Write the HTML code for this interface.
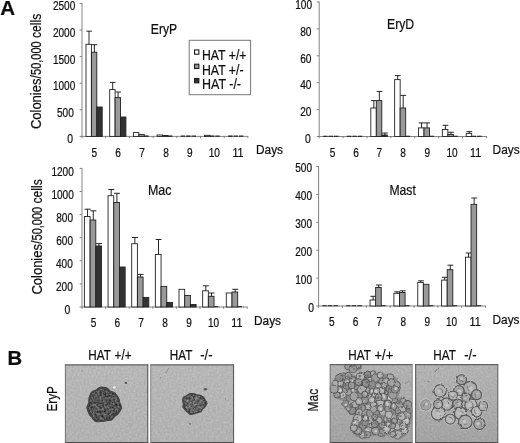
<!DOCTYPE html>
<html><head><meta charset="utf-8"><title>Figure</title>
<style>
html,body{margin:0;padding:0;background:#fff}
svg{display:block}
text{font-family:"Liberation Sans",sans-serif;fill:#111;stroke:#111;stroke-width:0.22px}
</style></head><body>
<svg width="520" height="443" viewBox="0 0 520 443">
<defs>
<filter id="soft" x="-5%" y="-5%" width="110%" height="110%"><feGaussianBlur stdDeviation="0.3"/></filter>
</defs>
<rect width="520" height="443" fill="#fff"/>
<g filter="url(#soft)">
<text x="0.2" y="14.9" font-size="21" textLength="14.8" lengthAdjust="spacingAndGlyphs" font-weight="bold" fill="#000">A</text>
<text x="7.4" y="365.4" font-size="20.6" textLength="14.6" lengthAdjust="spacingAndGlyphs" font-weight="bold" fill="#000">B</text>
<g>
<path d="M82 2.9V136.4H247.9" stroke="#7e7e7e" stroke-width="0.95" fill="none"/>
<path d="M79.6 3.4H82M79.6 30H82M79.6 56.6H82M79.6 83.2H82M79.6 109.8H82M79.6 136.4H82M82.0 135.9V138.2M105.7 135.9V138.2M129.4 135.9V138.2M153.1 135.9V138.2M176.8 135.9V138.2M200.5 135.9V138.2M224.2 135.9V138.2M247.9 135.9V138.2" stroke="#777" stroke-width="0.9" fill="none"/>
<text x="75.3" y="10.4" font-size="12.5" text-anchor="end" textLength="22.4" lengthAdjust="spacingAndGlyphs">2500</text>
<text x="75.3" y="37" font-size="12.5" text-anchor="end" textLength="22.4" lengthAdjust="spacingAndGlyphs">2000</text>
<text x="75.3" y="63.6" font-size="12.5" text-anchor="end" textLength="22.4" lengthAdjust="spacingAndGlyphs">1500</text>
<text x="75.3" y="90.2" font-size="12.5" text-anchor="end" textLength="22.4" lengthAdjust="spacingAndGlyphs">1000</text>
<text x="73.8" y="116.8" font-size="12.5" text-anchor="end" textLength="16.8" lengthAdjust="spacingAndGlyphs">500</text>
<text x="73.0" y="143.4" font-size="12.5" text-anchor="end" textLength="5.8" lengthAdjust="spacingAndGlyphs">0</text>
<text x="94.4" y="157" font-size="12.5" text-anchor="middle" textLength="5.6" lengthAdjust="spacingAndGlyphs">5</text>
<text x="118" y="157" font-size="12.5" text-anchor="middle" textLength="5.6" lengthAdjust="spacingAndGlyphs">6</text>
<text x="142" y="157" font-size="12.5" text-anchor="middle" textLength="5.6" lengthAdjust="spacingAndGlyphs">7</text>
<text x="166" y="157" font-size="12.5" text-anchor="middle" textLength="5.6" lengthAdjust="spacingAndGlyphs">8</text>
<text x="189.7" y="157" font-size="12.5" text-anchor="middle" textLength="5.6" lengthAdjust="spacingAndGlyphs">9</text>
<text x="214.3" y="157" font-size="12.5" text-anchor="middle" textLength="11.2" lengthAdjust="spacingAndGlyphs">10</text>
<text x="238" y="157" font-size="12.5" text-anchor="middle" textLength="11.2" lengthAdjust="spacingAndGlyphs">11</text>
<text x="256" y="154.4" font-size="13.5" textLength="27" lengthAdjust="spacingAndGlyphs">Days</text>
<text x="150.8" y="34.3" font-size="14.5" textLength="26.3" lengthAdjust="spacingAndGlyphs">EryP</text>
<rect x="86.00" y="44.30" width="5.40" height="92.10" fill="#fff" stroke="#222" stroke-width="0.9"/>
<path d="M89.00 44.30V31.20M86.30 31.20H91.90" stroke="#111" stroke-width="0.9" fill="none"/>
<rect x="91.40" y="52.20" width="5.40" height="84.20" fill="#999" stroke="#222" stroke-width="0.9"/>
<path d="M94.40 52.20V44.70M91.70 44.70H97.30" stroke="#111" stroke-width="0.9" fill="none"/>
<rect x="96.80" y="107.00" width="5.40" height="29.40" fill="#333" stroke="#222" stroke-width="0.9"/>
<rect x="109.70" y="89.60" width="5.40" height="46.80" fill="#fff" stroke="#222" stroke-width="0.9"/>
<path d="M112.70 89.60V82.40M110.00 82.40H115.60" stroke="#111" stroke-width="0.9" fill="none"/>
<rect x="115.10" y="97.60" width="5.40" height="38.80" fill="#999" stroke="#222" stroke-width="0.9"/>
<path d="M118.10 97.60V92.00M115.40 92.00H121.00" stroke="#111" stroke-width="0.9" fill="none"/>
<rect x="120.50" y="117.00" width="5.40" height="19.40" fill="#333" stroke="#222" stroke-width="0.9"/>
<rect x="133.40" y="132.60" width="5.40" height="3.80" fill="#fff" stroke="#222" stroke-width="0.9"/>
<rect x="138.80" y="134.40" width="5.40" height="2.00" fill="#999" stroke="#222" stroke-width="0.9"/>
<path d="M144.20 136.10H149.60" stroke="#151515" stroke-width="1.1" stroke-dasharray="4.4 1"/>
<rect x="157.10" y="135.00" width="5.40" height="1.40" fill="#fff" stroke="#222" stroke-width="0.9"/>
<rect x="162.50" y="135.50" width="5.40" height="0.90" fill="#999" stroke="#222" stroke-width="0.9"/>
<path d="M167.90 136.10H173.30" stroke="#151515" stroke-width="1.1" stroke-dasharray="4.4 1"/>
<path d="M180.80 136.10H186.20" stroke="#151515" stroke-width="1.1" stroke-dasharray="4.4 1"/>
<path d="M186.20 136.10H191.60" stroke="#151515" stroke-width="1.1" stroke-dasharray="4.4 1"/>
<path d="M191.60 136.10H197.00" stroke="#151515" stroke-width="1.1" stroke-dasharray="4.4 1"/>
<rect x="204.50" y="135.30" width="5.40" height="1.10" fill="#fff" stroke="#222" stroke-width="0.9"/>
<path d="M209.90 136.10H215.30" stroke="#151515" stroke-width="1.1" stroke-dasharray="4.4 1"/>
<path d="M215.30 136.10H220.70" stroke="#151515" stroke-width="1.1" stroke-dasharray="4.4 1"/>
<path d="M228.20 136.10H233.60" stroke="#151515" stroke-width="1.1" stroke-dasharray="4.4 1"/>
<path d="M233.60 136.10H239.00" stroke="#151515" stroke-width="1.1" stroke-dasharray="4.4 1"/>
<path d="M239.00 136.10H244.40" stroke="#151515" stroke-width="1.1" stroke-dasharray="4.4 1"/>
</g>
<text x="40.9" y="129.1" font-size="15" transform="rotate(-90 40.9 129.1)"><tspan textLength="54.2" lengthAdjust="spacingAndGlyphs">Colonies/</tspan><tspan textLength="33.6" lengthAdjust="spacingAndGlyphs">50,000</tspan><tspan textLength="27.6" lengthAdjust="spacingAndGlyphs"> cells</tspan></text>
<rect x="189.2" y="40.3" width="61.4" height="54.4" fill="#fff" stroke="#777" stroke-width="1"/>
<rect x="194.55" y="49.9" width="4.3" height="4.3" fill="#fff" stroke="#1c1c1c" stroke-width="1.1"/>
<text x="202" y="60.3" font-size="14" textLength="44.5" lengthAdjust="spacingAndGlyphs">HAT +/+</text>
<rect x="194.55" y="64.2" width="4.3" height="4.3" fill="#999" stroke="#1c1c1c" stroke-width="1.1"/>
<text x="202" y="74.6" font-size="14" textLength="41.5" lengthAdjust="spacingAndGlyphs">HAT +/-</text>
<rect x="194.55" y="78.5" width="4.3" height="4.3" fill="#333" stroke="#1c1c1c" stroke-width="1.1"/>
<text x="202" y="88.9" font-size="14" textLength="39" lengthAdjust="spacingAndGlyphs">HAT -/-</text>
<g>
<path d="M319.2 1.5V136.5H486.5" stroke="#7e7e7e" stroke-width="0.95" fill="none"/>
<path d="M316.8 2H319.2M316.8 28.9H319.2M316.8 55.8H319.2M316.8 82.7H319.2M316.8 109.6H319.2M316.8 136.5H319.2M319.2 136.0V138.3M343.1 136.0V138.3M367.0 136.0V138.3M390.9 136.0V138.3M414.8 136.0V138.3M438.7 136.0V138.3M462.6 136.0V138.3M486.5 136.0V138.3" stroke="#777" stroke-width="0.9" fill="none"/>
<text x="312" y="8.7" font-size="12.5" text-anchor="end" textLength="16.8" lengthAdjust="spacingAndGlyphs">100</text>
<text x="311.5" y="35.6" font-size="12.5" text-anchor="end" textLength="11.3" lengthAdjust="spacingAndGlyphs">80</text>
<text x="311.5" y="62.5" font-size="12.5" text-anchor="end" textLength="11.3" lengthAdjust="spacingAndGlyphs">60</text>
<text x="311.5" y="89.4" font-size="12.5" text-anchor="end" textLength="11.3" lengthAdjust="spacingAndGlyphs">40</text>
<text x="311.5" y="116.3" font-size="12.5" text-anchor="end" textLength="11.3" lengthAdjust="spacingAndGlyphs">20</text>
<text x="310.7" y="143.2" font-size="12.5" text-anchor="end" textLength="5.8" lengthAdjust="spacingAndGlyphs">0</text>
<text x="332.6" y="157" font-size="12.5" text-anchor="middle" textLength="5.6" lengthAdjust="spacingAndGlyphs">5</text>
<text x="356" y="157" font-size="12.5" text-anchor="middle" textLength="5.6" lengthAdjust="spacingAndGlyphs">6</text>
<text x="379.2" y="157" font-size="12.5" text-anchor="middle" textLength="5.6" lengthAdjust="spacingAndGlyphs">7</text>
<text x="403" y="157" font-size="12.5" text-anchor="middle" textLength="5.6" lengthAdjust="spacingAndGlyphs">8</text>
<text x="427.3" y="157" font-size="12.5" text-anchor="middle" textLength="5.6" lengthAdjust="spacingAndGlyphs">9</text>
<text x="452" y="157" font-size="12.5" text-anchor="middle" textLength="11.2" lengthAdjust="spacingAndGlyphs">10</text>
<text x="475.7" y="157" font-size="12.5" text-anchor="middle" textLength="11.2" lengthAdjust="spacingAndGlyphs">11</text>
<text x="492.6" y="154.3" font-size="13.5" textLength="27" lengthAdjust="spacingAndGlyphs">Days</text>
<text x="387" y="28.6" font-size="14.5" textLength="27.2" lengthAdjust="spacingAndGlyphs">EryD</text>
<path d="M323.10 136.20H328.60" stroke="#151515" stroke-width="1.1" stroke-dasharray="4.4 1"/>
<path d="M328.60 136.20H334.10" stroke="#151515" stroke-width="1.1" stroke-dasharray="4.4 1"/>
<path d="M334.10 136.20H339.60" stroke="#151515" stroke-width="1.1" stroke-dasharray="4.4 1"/>
<path d="M346.95 136.20H352.45" stroke="#151515" stroke-width="1.1" stroke-dasharray="4.4 1"/>
<path d="M352.45 136.20H357.95" stroke="#151515" stroke-width="1.1" stroke-dasharray="4.4 1"/>
<path d="M357.95 136.20H363.45" stroke="#151515" stroke-width="1.1" stroke-dasharray="4.4 1"/>
<rect x="370.80" y="108.00" width="5.50" height="28.50" fill="#fff" stroke="#222" stroke-width="0.9"/>
<path d="M373.85 108.00V100.60M371.10 100.60H376.80" stroke="#111" stroke-width="0.9" fill="none"/>
<rect x="376.30" y="100.60" width="5.50" height="35.90" fill="#999" stroke="#222" stroke-width="0.9"/>
<path d="M379.35 100.60V91.40M376.60 91.40H382.30" stroke="#111" stroke-width="0.9" fill="none"/>
<rect x="381.80" y="135.00" width="5.50" height="1.50" fill="#333" stroke="#222" stroke-width="0.9"/>
<path d="M384.85 135.00V133.00M382.10 133.00H387.80" stroke="#111" stroke-width="0.9" fill="none"/>
<rect x="394.65" y="79.60" width="5.50" height="56.90" fill="#fff" stroke="#222" stroke-width="0.9"/>
<path d="M397.70 79.60V75.60M394.95 75.60H400.65" stroke="#111" stroke-width="0.9" fill="none"/>
<rect x="400.15" y="108.00" width="5.50" height="28.50" fill="#999" stroke="#222" stroke-width="0.9"/>
<path d="M403.20 108.00V95.40M400.45 95.40H406.15" stroke="#111" stroke-width="0.9" fill="none"/>
<path d="M405.65 136.20H411.15" stroke="#151515" stroke-width="1.1" stroke-dasharray="4.4 1"/>
<rect x="418.50" y="127.90" width="5.50" height="8.60" fill="#fff" stroke="#222" stroke-width="0.9"/>
<path d="M421.55 127.90V122.90M418.80 122.90H424.50" stroke="#111" stroke-width="0.9" fill="none"/>
<rect x="424.00" y="127.90" width="5.50" height="8.60" fill="#999" stroke="#222" stroke-width="0.9"/>
<path d="M427.05 127.90V122.90M424.30 122.90H430.00" stroke="#111" stroke-width="0.9" fill="none"/>
<path d="M429.50 136.20H435.00" stroke="#151515" stroke-width="1.1" stroke-dasharray="4.4 1"/>
<rect x="442.35" y="129.40" width="5.50" height="7.10" fill="#fff" stroke="#222" stroke-width="0.9"/>
<path d="M445.40 129.40V125.30M442.65 125.30H448.35" stroke="#111" stroke-width="0.9" fill="none"/>
<rect x="447.85" y="134.50" width="5.50" height="2.00" fill="#999" stroke="#222" stroke-width="0.9"/>
<path d="M450.90 134.50V132.30M448.15 132.30H453.85" stroke="#111" stroke-width="0.9" fill="none"/>
<path d="M453.35 136.20H458.85" stroke="#151515" stroke-width="1.1" stroke-dasharray="4.4 1"/>
<rect x="466.20" y="133.40" width="5.50" height="3.10" fill="#fff" stroke="#222" stroke-width="0.9"/>
<path d="M469.25 133.40V131.60M466.50 131.60H472.20" stroke="#111" stroke-width="0.9" fill="none"/>
<path d="M471.70 136.20H477.20" stroke="#151515" stroke-width="1.1" stroke-dasharray="4.4 1"/>
<path d="M477.20 136.20H482.70" stroke="#151515" stroke-width="1.1" stroke-dasharray="4.4 1"/>
</g>
<g>
<path d="M82 167.9V307H247.2" stroke="#7e7e7e" stroke-width="0.95" fill="none"/>
<path d="M79.6 168.4H82M79.6 191.5H82M79.6 214.6H82M79.6 237.7H82M79.6 260.8H82M79.6 283.9H82M79.6 307H82M82.0 306.5V308.8M105.6 306.5V308.8M129.2 306.5V308.8M152.8 306.5V308.8M176.4 306.5V308.8M200.0 306.5V308.8M223.6 306.5V308.8M247.2 306.5V308.8" stroke="#777" stroke-width="0.9" fill="none"/>
<text x="73.8" y="175.6" font-size="12.5" text-anchor="end" textLength="22.4" lengthAdjust="spacingAndGlyphs">1200</text>
<text x="73.8" y="198.7" font-size="12.5" text-anchor="end" textLength="22.4" lengthAdjust="spacingAndGlyphs">1000</text>
<text x="73.0" y="221.8" font-size="12.5" text-anchor="end" textLength="16.8" lengthAdjust="spacingAndGlyphs">800</text>
<text x="73.0" y="244.9" font-size="12.5" text-anchor="end" textLength="16.8" lengthAdjust="spacingAndGlyphs">600</text>
<text x="72.8" y="268.0" font-size="12.5" text-anchor="end" textLength="16.8" lengthAdjust="spacingAndGlyphs">400</text>
<text x="72.8" y="291.1" font-size="12.5" text-anchor="end" textLength="16.8" lengthAdjust="spacingAndGlyphs">200</text>
<text x="70.3" y="314.2" font-size="12.5" text-anchor="end" textLength="5.8" lengthAdjust="spacingAndGlyphs">0</text>
<text x="93.6" y="327" font-size="12.5" text-anchor="middle" textLength="5.6" lengthAdjust="spacingAndGlyphs">5</text>
<text x="117.2" y="327" font-size="12.5" text-anchor="middle" textLength="5.6" lengthAdjust="spacingAndGlyphs">6</text>
<text x="141" y="327" font-size="12.5" text-anchor="middle" textLength="5.6" lengthAdjust="spacingAndGlyphs">7</text>
<text x="165" y="327" font-size="12.5" text-anchor="middle" textLength="5.6" lengthAdjust="spacingAndGlyphs">8</text>
<text x="189" y="327" font-size="12.5" text-anchor="middle" textLength="5.6" lengthAdjust="spacingAndGlyphs">9</text>
<text x="213.5" y="327" font-size="12.5" text-anchor="middle" textLength="11.2" lengthAdjust="spacingAndGlyphs">10</text>
<text x="236.8" y="327" font-size="12.5" text-anchor="middle" textLength="11.2" lengthAdjust="spacingAndGlyphs">11</text>
<text x="254" y="325" font-size="13.5" textLength="27" lengthAdjust="spacingAndGlyphs">Days</text>
<text x="148" y="195.4" font-size="14.5" textLength="23.5" lengthAdjust="spacingAndGlyphs">Mac</text>
<rect x="84.40" y="216.50" width="5.70" height="90.50" fill="#fff" stroke="#222" stroke-width="0.9"/>
<path d="M87.55 216.50V209.20M84.70 209.20H90.60" stroke="#111" stroke-width="0.9" fill="none"/>
<rect x="90.10" y="220.00" width="5.70" height="87.00" fill="#999" stroke="#222" stroke-width="0.9"/>
<path d="M93.25 220.00V210.80M90.40 210.80H96.30" stroke="#111" stroke-width="0.9" fill="none"/>
<rect x="95.80" y="246.00" width="5.70" height="61.00" fill="#333" stroke="#222" stroke-width="0.9"/>
<path d="M98.95 246.00V243.60M96.10 243.60H102.00" stroke="#111" stroke-width="0.9" fill="none"/>
<rect x="108.05" y="195.70" width="5.70" height="111.30" fill="#fff" stroke="#222" stroke-width="0.9"/>
<path d="M111.20 195.70V189.50M108.35 189.50H114.25" stroke="#111" stroke-width="0.9" fill="none"/>
<rect x="113.75" y="202.50" width="5.70" height="104.50" fill="#999" stroke="#222" stroke-width="0.9"/>
<path d="M116.90 202.50V193.30M114.05 193.30H119.95" stroke="#111" stroke-width="0.9" fill="none"/>
<rect x="119.45" y="267.00" width="5.70" height="40.00" fill="#333" stroke="#222" stroke-width="0.9"/>
<rect x="131.70" y="243.70" width="5.70" height="63.30" fill="#fff" stroke="#222" stroke-width="0.9"/>
<path d="M134.85 243.70V237.50M132.00 237.50H137.90" stroke="#111" stroke-width="0.9" fill="none"/>
<rect x="137.40" y="277.00" width="5.70" height="30.00" fill="#999" stroke="#222" stroke-width="0.9"/>
<path d="M140.55 277.00V274.40M137.70 274.40H143.60" stroke="#111" stroke-width="0.9" fill="none"/>
<rect x="143.10" y="297.40" width="5.70" height="9.60" fill="#333" stroke="#222" stroke-width="0.9"/>
<rect x="155.35" y="254.40" width="5.70" height="52.60" fill="#fff" stroke="#222" stroke-width="0.9"/>
<path d="M158.50 254.40V239.50M155.65 239.50H161.55" stroke="#111" stroke-width="0.9" fill="none"/>
<rect x="161.05" y="286.40" width="5.70" height="20.60" fill="#999" stroke="#222" stroke-width="0.9"/>
<rect x="166.75" y="302.40" width="5.70" height="4.60" fill="#333" stroke="#222" stroke-width="0.9"/>
<rect x="179.00" y="289.30" width="5.70" height="17.70" fill="#fff" stroke="#222" stroke-width="0.9"/>
<rect x="184.70" y="295.50" width="5.70" height="11.50" fill="#999" stroke="#222" stroke-width="0.9"/>
<rect x="190.40" y="304.50" width="5.70" height="2.50" fill="#333" stroke="#222" stroke-width="0.9"/>
<rect x="202.65" y="290.80" width="5.70" height="16.20" fill="#fff" stroke="#222" stroke-width="0.9"/>
<path d="M205.80 290.80V285.80M202.95 285.80H208.85" stroke="#111" stroke-width="0.9" fill="none"/>
<rect x="208.35" y="296.30" width="5.70" height="10.70" fill="#999" stroke="#222" stroke-width="0.9"/>
<path d="M211.50 296.30V293.00M208.65 293.00H214.55" stroke="#111" stroke-width="0.9" fill="none"/>
<path d="M214.05 306.70H219.75" stroke="#151515" stroke-width="1.1" stroke-dasharray="4.4 1"/>
<rect x="226.30" y="293.00" width="5.70" height="14.00" fill="#fff" stroke="#222" stroke-width="0.9"/>
<rect x="232.00" y="292.00" width="5.70" height="15.00" fill="#999" stroke="#222" stroke-width="0.9"/>
<path d="M235.15 292.00V289.30M232.30 289.30H238.20" stroke="#111" stroke-width="0.9" fill="none"/>
<path d="M237.70 306.70H243.40" stroke="#151515" stroke-width="1.1" stroke-dasharray="4.4 1"/>
</g>
<text x="42" y="294.6" font-size="15" transform="rotate(-90 42 294.6)"><tspan textLength="54.2" lengthAdjust="spacingAndGlyphs">Colonies/</tspan><tspan textLength="33.6" lengthAdjust="spacingAndGlyphs">50,000</tspan><tspan textLength="27.6" lengthAdjust="spacingAndGlyphs"> cells</tspan></text>
<g>
<path d="M318.6 166.0V306H485.6" stroke="#7e7e7e" stroke-width="0.95" fill="none"/>
<path d="M316.20000000000005 166.5H318.6M316.20000000000005 194.4H318.6M316.20000000000005 222.3H318.6M316.20000000000005 250.2H318.6M316.20000000000005 278.1H318.6M316.20000000000005 306H318.6M318.6 305.5V307.8M342.5 305.5V307.8M366.3 305.5V307.8M390.2 305.5V307.8M414.0 305.5V307.8M437.9 305.5V307.8M461.7 305.5V307.8M485.6 305.5V307.8" stroke="#777" stroke-width="0.9" fill="none"/>
<text x="312" y="172.2" font-size="12.5" text-anchor="end" textLength="16.8" lengthAdjust="spacingAndGlyphs">500</text>
<text x="312" y="200.1" font-size="12.5" text-anchor="end" textLength="16.8" lengthAdjust="spacingAndGlyphs">400</text>
<text x="312" y="228.0" font-size="12.5" text-anchor="end" textLength="16.8" lengthAdjust="spacingAndGlyphs">300</text>
<text x="312" y="255.9" font-size="12.5" text-anchor="end" textLength="16.8" lengthAdjust="spacingAndGlyphs">200</text>
<text x="312" y="283.8" font-size="12.5" text-anchor="end" textLength="16.8" lengthAdjust="spacingAndGlyphs">100</text>
<text x="314" y="311.7" font-size="12.5" text-anchor="end" textLength="5.8" lengthAdjust="spacingAndGlyphs">0</text>
<text x="331.8" y="326.3" font-size="12.5" text-anchor="middle" textLength="5.6" lengthAdjust="spacingAndGlyphs">5</text>
<text x="355.5" y="326.3" font-size="12.5" text-anchor="middle" textLength="5.6" lengthAdjust="spacingAndGlyphs">6</text>
<text x="379.3" y="326.3" font-size="12.5" text-anchor="middle" textLength="5.6" lengthAdjust="spacingAndGlyphs">7</text>
<text x="403.2" y="326.3" font-size="12.5" text-anchor="middle" textLength="5.6" lengthAdjust="spacingAndGlyphs">8</text>
<text x="427.2" y="326.3" font-size="12.5" text-anchor="middle" textLength="5.6" lengthAdjust="spacingAndGlyphs">9</text>
<text x="451.5" y="326.3" font-size="12.5" text-anchor="middle" textLength="11.2" lengthAdjust="spacingAndGlyphs">10</text>
<text x="475.2" y="326.3" font-size="12.5" text-anchor="middle" textLength="11.2" lengthAdjust="spacingAndGlyphs">11</text>
<text x="492.5" y="324.3" font-size="13.5" textLength="27" lengthAdjust="spacingAndGlyphs">Days</text>
<text x="389.4" y="195.4" font-size="14.5" textLength="26.4" lengthAdjust="spacingAndGlyphs">Mast</text>
<path d="M322.35 305.70H327.95" stroke="#151515" stroke-width="1.1" stroke-dasharray="4.4 1"/>
<path d="M327.95 305.70H333.55" stroke="#151515" stroke-width="1.1" stroke-dasharray="4.4 1"/>
<path d="M333.55 305.70H339.15" stroke="#151515" stroke-width="1.1" stroke-dasharray="4.4 1"/>
<path d="M346.20 305.70H351.80" stroke="#151515" stroke-width="1.1" stroke-dasharray="4.4 1"/>
<path d="M351.80 305.70H357.40" stroke="#151515" stroke-width="1.1" stroke-dasharray="4.4 1"/>
<path d="M357.40 305.70H363.00" stroke="#151515" stroke-width="1.1" stroke-dasharray="4.4 1"/>
<rect x="370.05" y="300.00" width="5.60" height="6.00" fill="#fff" stroke="#222" stroke-width="0.9"/>
<path d="M373.15 300.00V296.30M370.35 296.30H376.15" stroke="#111" stroke-width="0.9" fill="none"/>
<rect x="375.65" y="287.50" width="5.60" height="18.50" fill="#999" stroke="#222" stroke-width="0.9"/>
<path d="M378.75 287.50V285.00M375.95 285.00H381.75" stroke="#111" stroke-width="0.9" fill="none"/>
<path d="M381.25 305.70H386.85" stroke="#151515" stroke-width="1.1" stroke-dasharray="4.4 1"/>
<rect x="393.90" y="293.30" width="5.60" height="12.70" fill="#fff" stroke="#222" stroke-width="0.9"/>
<path d="M397.00 293.30V291.80M394.20 291.80H400.00" stroke="#111" stroke-width="0.9" fill="none"/>
<rect x="399.50" y="292.50" width="5.60" height="13.50" fill="#999" stroke="#222" stroke-width="0.9"/>
<path d="M402.60 292.50V290.80M399.80 290.80H405.60" stroke="#111" stroke-width="0.9" fill="none"/>
<path d="M405.10 305.70H410.70" stroke="#151515" stroke-width="1.1" stroke-dasharray="4.4 1"/>
<rect x="417.75" y="282.50" width="5.60" height="23.50" fill="#fff" stroke="#222" stroke-width="0.9"/>
<path d="M420.85 282.50V280.80M418.05 280.80H423.85" stroke="#111" stroke-width="0.9" fill="none"/>
<rect x="423.35" y="284.30" width="5.60" height="21.70" fill="#999" stroke="#222" stroke-width="0.9"/>
<path d="M428.95 305.70H434.55" stroke="#151515" stroke-width="1.1" stroke-dasharray="4.4 1"/>
<rect x="441.60" y="280.10" width="5.60" height="25.90" fill="#fff" stroke="#222" stroke-width="0.9"/>
<path d="M444.70 280.10V277.30M441.90 277.30H447.70" stroke="#111" stroke-width="0.9" fill="none"/>
<rect x="447.20" y="269.70" width="5.60" height="36.30" fill="#999" stroke="#222" stroke-width="0.9"/>
<path d="M450.30 269.70V265.20M447.50 265.20H453.30" stroke="#111" stroke-width="0.9" fill="none"/>
<path d="M452.80 305.70H458.40" stroke="#151515" stroke-width="1.1" stroke-dasharray="4.4 1"/>
<rect x="465.45" y="257.20" width="5.60" height="48.80" fill="#fff" stroke="#222" stroke-width="0.9"/>
<path d="M468.55 257.20V253.00M465.75 253.00H471.55" stroke="#111" stroke-width="0.9" fill="none"/>
<rect x="471.05" y="204.30" width="5.60" height="101.70" fill="#999" stroke="#222" stroke-width="0.9"/>
<path d="M474.15 204.30V198.00M471.35 198.00H477.15" stroke="#111" stroke-width="0.9" fill="none"/>
<path d="M476.65 305.70H482.25" stroke="#151515" stroke-width="1.1" stroke-dasharray="4.4 1"/>
</g>
<text y="359.8" font-size="14"><tspan x="88.3" textLength="22.3" lengthAdjust="spacingAndGlyphs">HAT</tspan> <tspan x="114.6" textLength="17" lengthAdjust="spacingAndGlyphs">+/+</tspan></text>
<text y="359.8" font-size="14"><tspan x="169.8" textLength="22.3" lengthAdjust="spacingAndGlyphs">HAT</tspan> <tspan x="200.3" textLength="12.2" lengthAdjust="spacingAndGlyphs">-/-</tspan></text>
<text y="359.8" font-size="14"><tspan x="348.3" textLength="22.3" lengthAdjust="spacingAndGlyphs">HAT</tspan> <tspan x="374.6" textLength="18.6" lengthAdjust="spacingAndGlyphs">+/+</tspan></text>
<text y="359.8" font-size="14"><tspan x="433.3" textLength="22.3" lengthAdjust="spacingAndGlyphs">HAT</tspan> <tspan x="464.3" textLength="12.2" lengthAdjust="spacingAndGlyphs">-/-</tspan></text>
<text x="57.2" y="411.6" font-size="15.5" textLength="25.6" lengthAdjust="spacingAndGlyphs" transform="rotate(-90 57.2 411.6)">EryP</text>
<text x="318.3" y="411.6" font-size="15.5" textLength="22.8" lengthAdjust="spacingAndGlyphs" transform="rotate(-90 318.3 411.6)">Mac</text>
</g>
<defs>
<filter id="bgn" x="-10%" y="-10%" width="120%" height="120%" color-interpolation-filters="sRGB"><feTurbulence type="fractalNoise" baseFrequency="0.5" numOctaves="2" seed="3" result="n"/><feColorMatrix in="n" type="matrix" values="1 0 0 0 0 1 0 0 0 0 1 0 0 0 0 0 0 0 0 1" result="g"/><feComposite in="SourceGraphic" in2="g" operator="arithmetic" k1="0" k2="1" k3="0.13" k4="-0.065" result="m"/><feComposite in="m" in2="SourceGraphic" operator="in" result="r"/><feGaussianBlur in="r" stdDeviation="0.55"/></filter>
<filter id="col" x="-10%" y="-10%" width="120%" height="120%" color-interpolation-filters="sRGB"><feTurbulence type="fractalNoise" baseFrequency="0.45" numOctaves="2" seed="8" result="n"/><feColorMatrix in="n" type="matrix" values="1 0 0 0 0 1 0 0 0 0 1 0 0 0 0 0 0 0 0 1" result="g"/><feComposite in="SourceGraphic" in2="g" operator="arithmetic" k1="0" k2="1" k3="0.6" k4="-0.300" result="m"/><feComposite in="m" in2="SourceGraphic" operator="in" result="r"/><feGaussianBlur in="r" stdDeviation="0.5"/></filter>
<filter id="clu" x="-10%" y="-10%" width="120%" height="120%" color-interpolation-filters="sRGB"><feTurbulence type="fractalNoise" baseFrequency="0.42" numOctaves="2" seed="21" result="n"/><feColorMatrix in="n" type="matrix" values="1 0 0 0 0 1 0 0 0 0 1 0 0 0 0 0 0 0 0 1" result="g"/><feComposite in="SourceGraphic" in2="g" operator="arithmetic" k1="0" k2="1" k3="0.55" k4="-0.275" result="m"/><feComposite in="m" in2="SourceGraphic" operator="in" result="r"/><feGaussianBlur in="r" stdDeviation="0.4"/></filter>
<filter id="b1" x="-20%" y="-20%" width="140%" height="140%"><feGaussianBlur stdDeviation="0.5"/></filter>
<filter id="wob" x="-5%" y="-5%" width="110%" height="110%" color-interpolation-filters="sRGB"><feTurbulence type="fractalNoise" baseFrequency="0.25" numOctaves="2" seed="4" result="t"/><feDisplacementMap in="SourceGraphic" in2="t" scale="2.6" xChannelSelector="R" yChannelSelector="G" result="d"/><feGaussianBlur in="d" stdDeviation="0.45"/></filter>
<linearGradient id="g3" x1="0" y1="0" x2="0" y2="1"><stop offset="0" stop-color="#b2b2b2"/><stop offset="1" stop-color="#a2a2a2"/></linearGradient>
<linearGradient id="g4" x1="0" y1="0" x2="0" y2="1"><stop offset="0" stop-color="#b3b3b3"/><stop offset="1" stop-color="#a3a3a3"/></linearGradient>
<linearGradient id="g1" x1="0" y1="0" x2="0" y2="1"><stop offset="0" stop-color="#b7b7b7"/><stop offset="1" stop-color="#b2b2b2"/></linearGradient>
</defs>
<rect x="64.9" y="364.4" width="83.4" height="78.6" fill="url(#g1)" filter="url(#bgn)"/>
<g filter="url(#b1)">
<circle cx="114.4" cy="387.3" r="2" fill="#e6e6e6" stroke="#8a8a8a" stroke-width="0.6"/>
<circle cx="126" cy="382.9" r="1.15" fill="#555"/>
<circle cx="82" cy="371" r="0.8" fill="#909090"/>
<ellipse cx="130" cy="425" rx="1.8" ry="1.2" fill="none" stroke="#a4a4a4" stroke-width="0.7"/>
</g>
<path d="M121.5 405.0L122.3 408.0L120.9 410.8L119.3 413.2L117.5 415.3L115.2 416.8L113.4 418.9L111.5 420.8L108.7 421.1L106.1 421.2L103.6 421.9L101.0 421.9L98.1 422.2L95.1 422.1L93.0 420.0L91.3 417.6L89.3 415.6L88.1 413.1L87.1 410.5L86.2 407.8L87.1 405.0L88.3 402.5L88.2 399.9L88.7 397.2L89.7 394.6L90.8 391.9L93.2 390.4L95.9 389.5L98.1 387.6L100.7 386.4L103.6 386.7L106.4 387.1L108.8 388.7L110.7 390.8L113.2 391.5L115.6 392.7L117.2 394.9L118.7 397.1L119.8 399.6L120.2 402.3Z" fill="#444" filter="url(#b1)"/>
<path d="M120.1 405.0L120.2 407.7L118.8 410.1L117.5 412.3L115.7 414.1L113.8 415.5L112.5 417.6L110.6 419.1L108.1 419.2L105.9 419.7L103.6 420.3L101.2 420.4L98.6 420.9L95.9 420.4L94.2 418.2L92.6 416.3L90.9 414.5L89.9 412.2L88.8 409.9L88.3 407.5L89.3 405.0L89.8 402.8L89.5 400.3L90.1 397.9L90.8 395.5L92.1 393.2L94.4 392.0L96.6 390.9L98.6 389.2L101.1 388.5L103.6 388.7L106.0 389.2L108.1 390.9L109.9 392.3L112.3 392.7L114.4 393.9L115.8 395.9L117.4 397.8L118.1 400.2L118.7 402.5Z" fill="#545454" filter="url(#col)"/>
<path d="M64.9 364.9H148.3" stroke="#4c4c4c" stroke-width="1"/>
<path d="M64.9 442.5H148.3" stroke="#4c4c4c" stroke-width="1"/>
<path d="M65.4 364.4V443" stroke="#757575" stroke-width="1"/>
<path d="M147.8 364.4V443" stroke="#555" stroke-width="1"/>
<rect x="150.3" y="364.4" width="83.8" height="78.6" fill="url(#g1)" filter="url(#bgn)"/>
<g filter="url(#b1)">
<ellipse cx="205.4" cy="389.2" rx="1.7" ry="1.2" fill="#5a5a5a"/>
<circle cx="190" cy="423.8" r="0.9" fill="#666"/>
<circle cx="225.5" cy="398.8" r="0.6" fill="#777"/>
<path d="M166 373l3-5" stroke="#8c8c8c" stroke-width="0.9"/>
<circle cx="160.5" cy="377.8" r="0.7" fill="#848484"/>
</g>
<path d="M207.6 403.6L206.7 405.3L205.7 406.9L204.5 408.2L203.1 409.3L202.4 410.8L201.3 412.3L199.4 412.8L197.7 413.3L195.9 414.0L194.0 414.4L191.9 415.0L189.7 415.0L188.1 413.6L186.7 412.2L185.3 411.1L184.3 409.7L183.2 408.4L182.2 406.9L182.6 405.2L182.8 403.6L182.2 402.0L182.1 400.3L182.4 398.5L183.0 396.7L184.9 395.7L186.7 394.9L188.2 393.7L190.0 393.0L192.0 392.9L194.0 393.0L195.8 393.8L197.4 394.6L199.4 394.5L201.3 394.9L202.8 396.0L204.3 397.1L205.3 398.7L205.8 400.3L207.1 401.8Z" fill="#484848" filter="url(#b1)"/>
<path d="M206.0 403.6L205.1 405.1L204.3 406.4L203.2 407.5L202.2 408.6L201.7 410.0L200.6 411.1L199.0 411.6L197.5 412.2L195.9 412.8L194.2 413.1L192.3 413.7L190.5 413.4L189.2 412.1L187.9 411.0L186.7 410.0L185.8 408.8L184.6 407.8L184.0 406.4L184.4 404.9L184.2 403.6L183.6 402.2L183.6 400.7L183.8 399.1L184.6 397.6L186.3 396.9L187.8 396.1L189.1 395.0L190.8 394.6L192.5 394.4L194.2 394.5L195.7 395.3L197.2 395.7L199.0 395.5L200.7 396.0L202.1 396.9L203.4 397.9L204.0 399.3L204.7 400.7L205.9 402.0Z" fill="#646464" filter="url(#col)"/>
<path d="M150.3 364.9H234.1" stroke="#4c4c4c" stroke-width="1"/>
<path d="M150.3 442.5H234.1" stroke="#4c4c4c" stroke-width="1"/>
<path d="M150.8 364.4V443" stroke="#8a8a8a" stroke-width="1"/>
<path d="M233.6 364.4V443" stroke="#555" stroke-width="1"/>
<rect x="329.7" y="364.2" width="82.9" height="78.8" fill="url(#g3)" filter="url(#bgn)"/>
<svg x="329.7" y="364.2" width="82.9" height="78.8" viewBox="329.7 364.2 82.9 78.8" overflow="hidden">
<g filter="url(#wob)">
<ellipse cx="346.6" cy="387.2" rx="15.3" ry="14.1" fill="#8a8a8a"/>
<ellipse cx="371.9" cy="385.3" rx="20.3" ry="14.1" fill="#8a8a8a"/>
<ellipse cx="387.8" cy="389.1" rx="12.3" ry="15.3" fill="#8a8a8a"/>
<ellipse cx="371.9" cy="403.1" rx="28.8" ry="16.6" fill="#8a8a8a"/>
<ellipse cx="381.3" cy="420.0" rx="26.9" ry="16.0" fill="#8a8a8a"/>
<ellipse cx="400.9" cy="414.4" rx="11.9" ry="16.6" fill="#8a8a8a"/>
<ellipse cx="363.4" cy="425.6" rx="12.8" ry="12.8" fill="#8a8a8a"/>
<ellipse cx="353.1" cy="366.6" rx="9.1" ry="5.1" fill="#8a8a8a"/>
<ellipse cx="398.1" cy="429.4" rx="10.9" ry="9.1" fill="#8a8a8a"/>
<circle cx="357.2" cy="364.7" r="4.0" fill="#9c9c9c" stroke="#585858" stroke-width="1"/>
<circle cx="348.1" cy="366.5" r="3.2" fill="#9c9c9c" stroke="#6a6a6a" stroke-width="1"/>
<circle cx="391.6" cy="430.2" r="3.2" fill="#acacac" stroke="#606060" stroke-width="1"/>
<circle cx="339.9" cy="383.1" r="3.6" fill="#acacac" stroke="#585858" stroke-width="1"/>
<circle cx="339.2" cy="384.1" r="0.8" fill="#c6c6c6"/>
<circle cx="381.5" cy="380.9" r="3.1" fill="#989898" stroke="#585858" stroke-width="1"/>
<circle cx="381.9" cy="380.6" r="0.8" fill="#c6c6c6"/>
<circle cx="348.9" cy="392.5" r="3.0" fill="#a2a2a2" stroke="#6a6a6a" stroke-width="1"/>
<circle cx="360.1" cy="395.5" r="3.9" fill="#8e8e8e" stroke="#606060" stroke-width="1"/>
<circle cx="369.3" cy="379.0" r="3.3" fill="#989898" stroke="#606060" stroke-width="1"/>
<circle cx="370.1" cy="377.8" r="1.4" fill="#c6c6c6"/>
<circle cx="399.2" cy="421.9" r="3.1" fill="#a2a2a2" stroke="#585858" stroke-width="1"/>
<circle cx="399.9" cy="422.3" r="1.0" fill="#747474"/>
<circle cx="349.4" cy="398.1" r="3.1" fill="#8e8e8e" stroke="#6a6a6a" stroke-width="1"/>
<circle cx="369.9" cy="424.8" r="3.1" fill="#b4b4b4" stroke="#585858" stroke-width="1"/>
<circle cx="369.2" cy="424.8" r="1.0" fill="#6c6c6c"/>
<circle cx="374.3" cy="395.9" r="3.1" fill="#b4b4b4" stroke="#585858" stroke-width="1"/>
<circle cx="373.4" cy="396.0" r="1.3" fill="#c6c6c6"/>
<circle cx="406.9" cy="415.2" r="4.2" fill="#9c9c9c" stroke="#606060" stroke-width="1"/>
<circle cx="407.0" cy="414.3" r="0.8" fill="#c6c6c6"/>
<circle cx="387.9" cy="393.1" r="3.1" fill="#9c9c9c" stroke="#6a6a6a" stroke-width="1"/>
<circle cx="389.0" cy="392.8" r="1.1" fill="#747474"/>
<circle cx="394.8" cy="402.0" r="3.6" fill="#989898" stroke="#585858" stroke-width="1"/>
<circle cx="368.4" cy="430.1" r="3.3" fill="#a2a2a2" stroke="#606060" stroke-width="1"/>
<circle cx="368.1" cy="429.9" r="1.2" fill="#c6c6c6"/>
<circle cx="397.1" cy="410.0" r="3.8" fill="#9c9c9c" stroke="#585858" stroke-width="1"/>
<circle cx="398.1" cy="410.5" r="0.8" fill="#747474"/>
<circle cx="378.5" cy="386.5" r="3.6" fill="#a2a2a2" stroke="#606060" stroke-width="1"/>
<circle cx="377.7" cy="386.5" r="0.8" fill="#d0d0d0"/>
<circle cx="347.6" cy="380.6" r="3.4" fill="#b4b4b4" stroke="#6a6a6a" stroke-width="1"/>
<circle cx="347.1" cy="381.5" r="1.0" fill="#d0d0d0"/>
<circle cx="383.2" cy="412.5" r="3.7" fill="#acacac" stroke="#606060" stroke-width="1"/>
<circle cx="369.4" cy="420.2" r="3.6" fill="#acacac" stroke="#606060" stroke-width="1"/>
<circle cx="368.2" cy="420.2" r="1.5" fill="#6c6c6c"/>
<circle cx="381.8" cy="390.6" r="3.3" fill="#b4b4b4" stroke="#525252" stroke-width="1"/>
<circle cx="380.6" cy="389.8" r="1.2" fill="#c6c6c6"/>
<circle cx="363.0" cy="435.0" r="3.8" fill="#a2a2a2" stroke="#6a6a6a" stroke-width="1"/>
<circle cx="362.9" cy="433.9" r="1.0" fill="#d0d0d0"/>
<circle cx="357.9" cy="418.4" r="4.3" fill="#b4b4b4" stroke="#525252" stroke-width="1"/>
<circle cx="357.4" cy="417.3" r="0.9" fill="#747474"/>
<circle cx="388.8" cy="398.5" r="4.1" fill="#b4b4b4" stroke="#606060" stroke-width="1"/>
<circle cx="388.8" cy="398.2" r="1.1" fill="#d0d0d0"/>
<circle cx="368.7" cy="396.2" r="3.3" fill="#acacac" stroke="#606060" stroke-width="1"/>
<circle cx="369.8" cy="397.1" r="0.9" fill="#747474"/>
<circle cx="354.0" cy="390.3" r="3.3" fill="#989898" stroke="#606060" stroke-width="1"/>
<circle cx="352.8" cy="389.9" r="1.0" fill="#d0d0d0"/>
<circle cx="356.7" cy="386.4" r="3.4" fill="#989898" stroke="#525252" stroke-width="1"/>
<circle cx="355.7" cy="385.9" r="1.0" fill="#747474"/>
<circle cx="390.3" cy="377.3" r="3.5" fill="#acacac" stroke="#606060" stroke-width="1"/>
<circle cx="352.9" cy="380.5" r="3.8" fill="#989898" stroke="#585858" stroke-width="1"/>
<circle cx="352.6" cy="381.3" r="1.2" fill="#d0d0d0"/>
<circle cx="362.6" cy="426.4" r="3.1" fill="#8e8e8e" stroke="#606060" stroke-width="1"/>
<circle cx="360.5" cy="376.4" r="4.2" fill="#b4b4b4" stroke="#585858" stroke-width="1"/>
<circle cx="359.8" cy="376.1" r="1.4" fill="#747474"/>
<circle cx="404.6" cy="430.3" r="3.6" fill="#b4b4b4" stroke="#585858" stroke-width="1"/>
<circle cx="405.2" cy="429.3" r="0.9" fill="#d0d0d0"/>
<circle cx="380.4" cy="401.9" r="4.0" fill="#b4b4b4" stroke="#585858" stroke-width="1"/>
<circle cx="386.3" cy="428.4" r="4.1" fill="#b4b4b4" stroke="#525252" stroke-width="1"/>
<circle cx="386.1" cy="428.4" r="1.3" fill="#c6c6c6"/>
<circle cx="383.8" cy="397.2" r="3.8" fill="#9c9c9c" stroke="#585858" stroke-width="1"/>
<circle cx="383.6" cy="396.3" r="1.5" fill="#c6c6c6"/>
<circle cx="343.6" cy="376.2" r="3.4" fill="#9c9c9c" stroke="#606060" stroke-width="1"/>
<circle cx="342.6" cy="375.4" r="1.2" fill="#6c6c6c"/>
<circle cx="392.9" cy="394.8" r="4.2" fill="#9c9c9c" stroke="#6a6a6a" stroke-width="1"/>
<circle cx="357.9" cy="430.6" r="3.9" fill="#989898" stroke="#585858" stroke-width="1"/>
<circle cx="358.3" cy="431.5" r="0.9" fill="#d0d0d0"/>
<circle cx="382.0" cy="425.1" r="3.1" fill="#a2a2a2" stroke="#585858" stroke-width="1"/>
<circle cx="381.7" cy="424.7" r="1.1" fill="#6c6c6c"/>
<circle cx="352.9" cy="368.8" r="4.0" fill="#9c9c9c" stroke="#6a6a6a" stroke-width="1"/>
<circle cx="354.0" cy="369.0" r="0.9" fill="#6c6c6c"/>
<circle cx="397.3" cy="426.7" r="3.4" fill="#b4b4b4" stroke="#6a6a6a" stroke-width="1"/>
<circle cx="392.1" cy="411.0" r="3.7" fill="#8e8e8e" stroke="#585858" stroke-width="1"/>
<circle cx="390.9" cy="411.1" r="1.2" fill="#6c6c6c"/>
<circle cx="355.5" cy="423.1" r="3.7" fill="#acacac" stroke="#606060" stroke-width="1"/>
<circle cx="354.7" cy="422.2" r="1.2" fill="#d0d0d0"/>
<circle cx="393.6" cy="416.9" r="3.3" fill="#9c9c9c" stroke="#606060" stroke-width="1"/>
<circle cx="392.8" cy="417.6" r="1.5" fill="#c6c6c6"/>
<circle cx="344.4" cy="389.9" r="3.6" fill="#989898" stroke="#606060" stroke-width="1"/>
<circle cx="397.8" cy="434.8" r="4.3" fill="#acacac" stroke="#6a6a6a" stroke-width="1"/>
<circle cx="368.6" cy="408.1" r="3.7" fill="#b4b4b4" stroke="#6a6a6a" stroke-width="1"/>
<circle cx="373.5" cy="404.4" r="3.4" fill="#b4b4b4" stroke="#585858" stroke-width="1"/>
<circle cx="373.3" cy="403.4" r="0.9" fill="#c6c6c6"/>
<circle cx="405.9" cy="421.0" r="4.0" fill="#b4b4b4" stroke="#585858" stroke-width="1"/>
<circle cx="406.9" cy="420.4" r="1.3" fill="#d0d0d0"/>
<circle cx="366.1" cy="383.3" r="3.9" fill="#8e8e8e" stroke="#525252" stroke-width="1"/>
<circle cx="367.1" cy="382.2" r="1.3" fill="#6c6c6c"/>
<circle cx="402.6" cy="407.7" r="4.2" fill="#b4b4b4" stroke="#6a6a6a" stroke-width="1"/>
<circle cx="402.0" cy="407.3" r="1.1" fill="#6c6c6c"/>
<circle cx="378.8" cy="420.3" r="3.5" fill="#acacac" stroke="#606060" stroke-width="1"/>
<circle cx="373.2" cy="373.8" r="3.0" fill="#b4b4b4" stroke="#585858" stroke-width="1"/>
<circle cx="374.3" cy="373.5" r="0.9" fill="#747474"/>
<circle cx="381.1" cy="432.9" r="3.7" fill="#989898" stroke="#606060" stroke-width="1"/>
<circle cx="380.6" cy="433.3" r="0.7" fill="#6c6c6c"/>
<circle cx="337.2" cy="394.6" r="3.5" fill="#989898" stroke="#525252" stroke-width="1"/>
<circle cx="385.9" cy="381.5" r="3.6" fill="#9c9c9c" stroke="#606060" stroke-width="1"/>
<circle cx="385.8" cy="380.6" r="0.8" fill="#d0d0d0"/>
<circle cx="364.8" cy="400.2" r="3.8" fill="#8e8e8e" stroke="#585858" stroke-width="1"/>
<circle cx="364.6" cy="401.0" r="0.8" fill="#d0d0d0"/>
<circle cx="365.2" cy="412.7" r="3.9" fill="#a2a2a2" stroke="#585858" stroke-width="1"/>
<circle cx="364.6" cy="413.1" r="0.7" fill="#747474"/>
<circle cx="350.7" cy="403.0" r="3.3" fill="#acacac" stroke="#6a6a6a" stroke-width="1"/>
<circle cx="351.1" cy="403.8" r="1.4" fill="#747474"/>
<circle cx="375.7" cy="378.0" r="4.1" fill="#9c9c9c" stroke="#6a6a6a" stroke-width="1"/>
<circle cx="367.2" cy="390.6" r="3.1" fill="#acacac" stroke="#585858" stroke-width="1"/>
<circle cx="367.4" cy="374.6" r="3.5" fill="#8e8e8e" stroke="#525252" stroke-width="1"/>
<circle cx="367.5" cy="375.7" r="1.3" fill="#6c6c6c"/>
<circle cx="387.1" cy="419.4" r="3.4" fill="#b4b4b4" stroke="#525252" stroke-width="1"/>
<circle cx="387.4" cy="418.9" r="1.2" fill="#6c6c6c"/>
<circle cx="346.6" cy="385.7" r="3.6" fill="#8e8e8e" stroke="#606060" stroke-width="1"/>
<circle cx="345.6" cy="385.3" r="1.3" fill="#6c6c6c"/>
<circle cx="396.9" cy="384.9" r="3.4" fill="#a2a2a2" stroke="#525252" stroke-width="1"/>
<circle cx="396.0" cy="386.1" r="1.0" fill="#6c6c6c"/>
<circle cx="401.6" cy="416.7" r="3.7" fill="#b4b4b4" stroke="#6a6a6a" stroke-width="1"/>
<circle cx="400.5" cy="415.9" r="1.2" fill="#747474"/>
<circle cx="352.2" cy="410.5" r="3.8" fill="#8e8e8e" stroke="#525252" stroke-width="1"/>
<circle cx="355.1" cy="404.4" r="3.4" fill="#acacac" stroke="#606060" stroke-width="1"/>
<circle cx="365.0" cy="422.5" r="3.2" fill="#8e8e8e" stroke="#6a6a6a" stroke-width="1"/>
<circle cx="403.0" cy="426.0" r="3.3" fill="#b4b4b4" stroke="#525252" stroke-width="1"/>
<circle cx="402.3" cy="425.7" r="1.0" fill="#6c6c6c"/>
<circle cx="389.6" cy="388.9" r="3.6" fill="#8e8e8e" stroke="#585858" stroke-width="1"/>
<circle cx="389.1" cy="389.1" r="1.2" fill="#6c6c6c"/>
<circle cx="358.4" cy="382.1" r="3.5" fill="#9c9c9c" stroke="#525252" stroke-width="1"/>
<circle cx="358.6" cy="382.8" r="0.9" fill="#747474"/>
<circle cx="370.7" cy="413.5" r="4.1" fill="#989898" stroke="#585858" stroke-width="1"/>
<circle cx="353.8" cy="428.0" r="3.5" fill="#acacac" stroke="#525252" stroke-width="1"/>
<circle cx="409.4" cy="409.9" r="3.3" fill="#8e8e8e" stroke="#6a6a6a" stroke-width="1"/>
<circle cx="409.5" cy="410.0" r="1.0" fill="#747474"/>
<circle cx="365.3" cy="418.0" r="3.2" fill="#acacac" stroke="#585858" stroke-width="1"/>
<circle cx="366.0" cy="417.9" r="1.4" fill="#c6c6c6"/>
<circle cx="392.4" cy="425.4" r="3.3" fill="#9c9c9c" stroke="#606060" stroke-width="1"/>
<circle cx="375.8" cy="430.9" r="3.9" fill="#9c9c9c" stroke="#606060" stroke-width="1"/>
<circle cx="375.7" cy="431.1" r="1.4" fill="#c6c6c6"/>
<circle cx="387.9" cy="403.9" r="3.8" fill="#9c9c9c" stroke="#525252" stroke-width="1"/>
<circle cx="387.5" cy="403.8" r="1.2" fill="#d0d0d0"/>
<circle cx="372.4" cy="383.9" r="3.0" fill="#8e8e8e" stroke="#6a6a6a" stroke-width="1"/>
<circle cx="343.1" cy="395.0" r="3.2" fill="#b4b4b4" stroke="#606060" stroke-width="1"/>
<circle cx="343.0" cy="395.2" r="0.9" fill="#6c6c6c"/>
<circle cx="339.1" cy="390.1" r="3.5" fill="#acacac" stroke="#585858" stroke-width="1"/>
<circle cx="340.3" cy="390.6" r="1.4" fill="#d0d0d0"/>
<circle cx="361.9" cy="408.2" r="3.5" fill="#989898" stroke="#606060" stroke-width="1"/>
<circle cx="361.0" cy="407.4" r="1.1" fill="#6c6c6c"/>
<circle cx="403.0" cy="401.5" r="3.2" fill="#a2a2a2" stroke="#6a6a6a" stroke-width="1"/>
<circle cx="394.5" cy="421.0" r="3.0" fill="#989898" stroke="#525252" stroke-width="1"/>
<circle cx="394.3" cy="421.3" r="0.8" fill="#c6c6c6"/>
<circle cx="372.3" cy="391.8" r="3.2" fill="#989898" stroke="#585858" stroke-width="1"/>
<circle cx="372.1" cy="391.0" r="1.4" fill="#c6c6c6"/>
<circle cx="358.9" cy="401.2" r="3.5" fill="#acacac" stroke="#606060" stroke-width="1"/>
<circle cx="359.1" cy="401.6" r="0.9" fill="#c6c6c6"/>
<circle cx="391.2" cy="382.5" r="3.8" fill="#a2a2a2" stroke="#606060" stroke-width="1"/>
<circle cx="361.7" cy="389.6" r="4.2" fill="#acacac" stroke="#585858" stroke-width="1"/>
<circle cx="361.1" cy="388.6" r="0.9" fill="#747474"/>
<circle cx="335.1" cy="383.5" r="3.1" fill="#acacac" stroke="#6a6a6a" stroke-width="1"/>
<circle cx="380.5" cy="408.4" r="3.1" fill="#acacac" stroke="#606060" stroke-width="1"/>
<circle cx="380.9" cy="409.3" r="1.2" fill="#c6c6c6"/>
<circle cx="376.3" cy="413.2" r="3.1" fill="#8e8e8e" stroke="#606060" stroke-width="1"/>
<circle cx="387.7" cy="409.0" r="3.1" fill="#989898" stroke="#585858" stroke-width="1"/>
<circle cx="388.7" cy="408.5" r="1.0" fill="#6c6c6c"/>
<circle cx="383.6" cy="385.5" r="3.1" fill="#acacac" stroke="#525252" stroke-width="1"/>
<circle cx="383.2" cy="386.3" r="0.7" fill="#747474"/>
<circle cx="374.9" cy="424.1" r="3.5" fill="#8e8e8e" stroke="#525252" stroke-width="1"/>
<circle cx="375.8" cy="423.4" r="1.1" fill="#747474"/>
<circle cx="351.6" cy="385.2" r="3.4" fill="#9c9c9c" stroke="#525252" stroke-width="1"/>
<circle cx="350.8" cy="386.0" r="0.8" fill="#747474"/>
<circle cx="359.2" cy="411.9" r="3.1" fill="#acacac" stroke="#585858" stroke-width="1"/>
<circle cx="358.7" cy="412.6" r="1.2" fill="#6c6c6c"/>
<circle cx="376.7" cy="390.8" r="3.3" fill="#a2a2a2" stroke="#585858" stroke-width="1"/>
<circle cx="376.0" cy="391.5" r="1.4" fill="#c6c6c6"/>
<circle cx="394.9" cy="389.4" r="3.8" fill="#8e8e8e" stroke="#606060" stroke-width="1"/>
<circle cx="395.9" cy="388.6" r="1.5" fill="#c6c6c6"/>
<circle cx="378.7" cy="397.2" r="3.4" fill="#9c9c9c" stroke="#585858" stroke-width="1"/>
<circle cx="378.2" cy="397.6" r="1.4" fill="#6c6c6c"/>
<circle cx="388.8" cy="414.7" r="3.7" fill="#b4b4b4" stroke="#6a6a6a" stroke-width="1"/>
<circle cx="407.6" cy="404.7" r="4.2" fill="#989898" stroke="#525252" stroke-width="1"/>
<circle cx="407.2" cy="405.9" r="1.3" fill="#747474"/>
<circle cx="354.1" cy="396.5" r="4.2" fill="#a2a2a2" stroke="#606060" stroke-width="1"/>
<circle cx="393.9" cy="406.4" r="3.1" fill="#a2a2a2" stroke="#585858" stroke-width="1"/>
<circle cx="393.5" cy="405.9" r="0.9" fill="#d0d0d0"/>
<circle cx="348.1" cy="407.7" r="3.2" fill="#acacac" stroke="#606060" stroke-width="1"/>
<circle cx="347.4" cy="406.6" r="1.0" fill="#6c6c6c"/>
<circle cx="345.7" cy="403.7" r="3.2" fill="#8e8e8e" stroke="#6a6a6a" stroke-width="1"/>
<circle cx="345.8" cy="404.7" r="1.3" fill="#c6c6c6"/>
<circle cx="393.0" cy="434.3" r="3.0" fill="#a2a2a2" stroke="#606060" stroke-width="1"/>
<circle cx="374.6" cy="417.0" r="3.0" fill="#989898" stroke="#585858" stroke-width="1"/>
<circle cx="375.3" cy="416.6" r="0.8" fill="#6c6c6c"/>
<circle cx="371.7" cy="399.9" r="3.2" fill="#b4b4b4" stroke="#606060" stroke-width="1"/>
<circle cx="372.6" cy="399.3" r="1.5" fill="#c6c6c6"/>
<circle cx="380.2" cy="375.2" r="3.1" fill="#b4b4b4" stroke="#585858" stroke-width="1"/>
<circle cx="334.0" cy="389.1" r="4.1" fill="#a2a2a2" stroke="#525252" stroke-width="1"/>
<circle cx="373.6" cy="409.3" r="3.3" fill="#a2a2a2" stroke="#6a6a6a" stroke-width="1"/>
<circle cx="339.2" cy="378.0" r="3.7" fill="#8e8e8e" stroke="#585858" stroke-width="1"/>
<circle cx="340.0" cy="378.6" r="0.8" fill="#747474"/>
<circle cx="388.3" cy="423.7" r="3.2" fill="#8e8e8e" stroke="#606060" stroke-width="1"/>
<circle cx="388.6" cy="424.1" r="1.4" fill="#c6c6c6"/>
<circle cx="348.3" cy="375.8" r="3.5" fill="#9c9c9c" stroke="#585858" stroke-width="1"/>
<circle cx="348.4" cy="376.6" r="1.3" fill="#747474"/>
<circle cx="352.0" cy="364.0" r="3.0" fill="#b4b4b4" stroke="#606060" stroke-width="1"/>
<circle cx="351.6" cy="363.9" r="1.0" fill="#6c6c6c"/>
<circle cx="364.8" cy="394.3" r="3.1" fill="#9c9c9c" stroke="#525252" stroke-width="1"/>
<circle cx="365.6" cy="393.4" r="1.0" fill="#c6c6c6"/>
<circle cx="367.6" cy="434.6" r="3.1" fill="#9c9c9c" stroke="#6a6a6a" stroke-width="1"/>
<circle cx="366.6" cy="434.8" r="1.2" fill="#6c6c6c"/>
<circle cx="399.1" cy="404.0" r="3.2" fill="#a2a2a2" stroke="#606060" stroke-width="1"/>
<circle cx="399.0" cy="403.0" r="1.5" fill="#747474"/>
<path d="M405 384l4-3" stroke="#808080" stroke-width="0.8"/>
</g></svg>
<path d="M329.7 364.7H412.6" stroke="#4c4c4c" stroke-width="1"/>
<path d="M329.7 442.5H412.6" stroke="#4c4c4c" stroke-width="1"/>
<path d="M330.2 364.2V443" stroke="#757575" stroke-width="1"/>
<path d="M412.1 364.2V443" stroke="#8c8c8c" stroke-width="1"/>
<rect x="415.2" y="364.2" width="83.1" height="78.8" fill="url(#g4)" filter="url(#bgn)"/>
<svg x="415.2" y="364.2" width="83.1" height="78.8" viewBox="415.2 364.2 83.1 78.8" overflow="hidden">
<g filter="url(#wob)">
<circle cx="440.0" cy="390.9" r="7.3" fill="#d0d0d0"/>
<circle cx="461.6" cy="379.7" r="6.1" fill="#d0d0d0"/>
<circle cx="470.0" cy="388.1" r="7.9" fill="#d0d0d0"/>
<circle cx="458.8" cy="390.9" r="6.4" fill="#d0d0d0"/>
<circle cx="476.6" cy="394.7" r="6.1" fill="#d0d0d0"/>
<circle cx="425.9" cy="405.0" r="6.4" fill="#d0d0d0"/>
<circle cx="446.6" cy="404.1" r="7.3" fill="#d0d0d0"/>
<circle cx="438.1" cy="413.4" r="7.9" fill="#d0d0d0"/>
<circle cx="457.8" cy="404.1" r="6.1" fill="#d0d0d0"/>
<circle cx="460.6" cy="413.4" r="7.3" fill="#d0d0d0"/>
<circle cx="470.9" cy="405.0" r="7.3" fill="#d0d0d0"/>
<circle cx="476.6" cy="411.6" r="6.4" fill="#d0d0d0"/>
<circle cx="465.3" cy="421.9" r="7.9" fill="#d0d0d0"/>
<circle cx="479.4" cy="423.8" r="6.8" fill="#d0d0d0"/>
<circle cx="483.1" cy="405.9" r="5.6" fill="#d0d0d0"/>
<circle cx="450.3" cy="419.1" r="6.1" fill="#d0d0d0"/>
<circle cx="438.1" cy="404.1" r="5.6" fill="#d0d0d0"/>
<circle cx="453.1" cy="395.6" r="5.6" fill="#d0d0d0"/>
<circle cx="466.3" cy="397.5" r="5.6" fill="#d0d0d0"/>
<circle cx="440.0" cy="390.9" r="6.2" fill="#b2b2b2" stroke="#595959" stroke-width="1.25"/>
<path d="M436.9 391.5q3.1 -5.6 6.2 -0.6" fill="none" stroke="#6e6e6e" stroke-width="0.8" transform="rotate(39 440.0 390.9)"/>
<circle cx="438.8" cy="391.1" r="1.9" fill="#c4c4c4"/>
<circle cx="461.6" cy="379.7" r="5.0" fill="#a6a6a6" stroke="#595959" stroke-width="1.25"/>
<path d="M459.1 380.2q2.5 -4.5 5.0 -0.5" fill="none" stroke="#6e6e6e" stroke-width="0.8" transform="rotate(251 461.6 379.7)"/>
<circle cx="461.4" cy="378.5" r="1.5" fill="#c4c4c4"/>
<circle cx="470.0" cy="388.1" r="6.8" fill="#acacac" stroke="#595959" stroke-width="1.25"/>
<path d="M466.6 388.8q3.4 -6.1 6.8 -0.7" fill="none" stroke="#6e6e6e" stroke-width="0.8" transform="rotate(219 470.0 388.1)"/>
<circle cx="471.0" cy="388.8" r="2.0" fill="#c4c4c4"/>
<circle cx="458.8" cy="390.9" r="5.3" fill="#a6a6a6" stroke="#595959" stroke-width="1.25"/>
<path d="M456.2 391.4q2.6 -4.8 5.3 -0.5" fill="none" stroke="#6e6e6e" stroke-width="0.8" transform="rotate(275 458.8 390.9)"/>
<circle cx="460.0" cy="391.2" r="1.6" fill="#c4c4c4"/>
<circle cx="476.6" cy="394.7" r="5.0" fill="#a6a6a6" stroke="#595959" stroke-width="1.25"/>
<path d="M474.1 395.2q2.5 -4.5 5.0 -0.5" fill="none" stroke="#6e6e6e" stroke-width="0.8" transform="rotate(295 476.6 394.7)"/>
<circle cx="477.3" cy="393.7" r="1.5" fill="#c4c4c4"/>
<circle cx="425.9" cy="405.0" r="5.3" fill="#a2a2a2" stroke="#595959" stroke-width="0.6"/>
<path d="M423.2 405.5q2.6 -4.8 5.3 -0.5" fill="none" stroke="#6e6e6e" stroke-width="0.8" transform="rotate(344 425.9 405.0)"/>
<circle cx="426.4" cy="403.9" r="1.6" fill="#c4c4c4"/>
<circle cx="446.6" cy="404.1" r="6.2" fill="#b2b2b2" stroke="#595959" stroke-width="1.25"/>
<path d="M443.5 404.7q3.1 -5.6 6.2 -0.6" fill="none" stroke="#6e6e6e" stroke-width="0.8" transform="rotate(134 446.6 404.1)"/>
<circle cx="447.1" cy="405.2" r="1.9" fill="#c4c4c4"/>
<circle cx="438.1" cy="413.4" r="6.8" fill="#b8b8b8" stroke="#595959" stroke-width="1.25"/>
<path d="M434.7 414.1q3.4 -6.1 6.8 -0.7" fill="none" stroke="#6e6e6e" stroke-width="0.8" transform="rotate(56 438.1 413.4)"/>
<circle cx="439.3" cy="413.4" r="2.0" fill="#c4c4c4"/>
<circle cx="457.8" cy="404.1" r="5.0" fill="#a6a6a6" stroke="#595959" stroke-width="1.25"/>
<path d="M455.3 404.6q2.5 -4.5 5.0 -0.5" fill="none" stroke="#6e6e6e" stroke-width="0.8" transform="rotate(30 457.8 404.1)"/>
<circle cx="459.0" cy="404.1" r="1.5" fill="#c4c4c4"/>
<circle cx="460.6" cy="413.4" r="6.2" fill="#b8b8b8" stroke="#595959" stroke-width="1.25"/>
<path d="M457.5 414.0q3.1 -5.6 6.2 -0.6" fill="none" stroke="#6e6e6e" stroke-width="0.8" transform="rotate(15 460.6 413.4)"/>
<circle cx="459.4" cy="413.2" r="1.9" fill="#c4c4c4"/>
<circle cx="470.9" cy="405.0" r="6.2" fill="#b8b8b8" stroke="#595959" stroke-width="1.25"/>
<path d="M467.8 405.6q3.1 -5.6 6.2 -0.6" fill="none" stroke="#6e6e6e" stroke-width="0.8" transform="rotate(113 470.9 405.0)"/>
<circle cx="469.7" cy="405.3" r="1.9" fill="#c4c4c4"/>
<circle cx="476.6" cy="411.6" r="5.3" fill="#b8b8b8" stroke="#595959" stroke-width="1.25"/>
<path d="M474.0 412.1q2.6 -4.8 5.3 -0.5" fill="none" stroke="#6e6e6e" stroke-width="0.8" transform="rotate(225 476.6 411.6)"/>
<circle cx="477.6" cy="412.3" r="1.6" fill="#c4c4c4"/>
<circle cx="465.3" cy="421.9" r="6.8" fill="#acacac" stroke="#595959" stroke-width="1.25"/>
<path d="M461.9 422.6q3.4 -6.1 6.8 -0.7" fill="none" stroke="#6e6e6e" stroke-width="0.8" transform="rotate(233 465.3 421.9)"/>
<circle cx="464.1" cy="421.7" r="2.0" fill="#c4c4c4"/>
<circle cx="479.4" cy="423.8" r="5.7" fill="#a6a6a6" stroke="#595959" stroke-width="1.25"/>
<path d="M476.5 424.4q2.9 -5.1 5.7 -0.6" fill="none" stroke="#6e6e6e" stroke-width="0.8" transform="rotate(49 479.4 423.8)"/>
<circle cx="478.2" cy="423.5" r="1.7" fill="#c4c4c4"/>
<circle cx="483.1" cy="405.9" r="4.5" fill="#b2b2b2" stroke="#595959" stroke-width="1.25"/>
<path d="M480.9 406.3q2.2 -4.0 4.5 -0.5" fill="none" stroke="#6e6e6e" stroke-width="0.8" transform="rotate(65 483.1 405.9)"/>
<circle cx="481.9" cy="405.8" r="1.3" fill="#c4c4c4"/>
<circle cx="450.3" cy="419.1" r="5.0" fill="#b8b8b8" stroke="#595959" stroke-width="1.25"/>
<path d="M447.8 419.6q2.5 -4.5 5.0 -0.5" fill="none" stroke="#6e6e6e" stroke-width="0.8" transform="rotate(64 450.3 419.1)"/>
<circle cx="450.7" cy="420.2" r="1.5" fill="#c4c4c4"/>
<circle cx="438.1" cy="404.1" r="4.5" fill="#a6a6a6" stroke="#595959" stroke-width="1.25"/>
<path d="M435.9 404.6q2.2 -4.0 4.5 -0.5" fill="none" stroke="#6e6e6e" stroke-width="0.8" transform="rotate(47 438.1 404.1)"/>
<circle cx="439.2" cy="404.4" r="1.3" fill="#c4c4c4"/>
<circle cx="453.1" cy="395.6" r="4.5" fill="#b2b2b2" stroke="#595959" stroke-width="1.25"/>
<path d="M450.9 396.1q2.2 -4.0 4.5 -0.5" fill="none" stroke="#6e6e6e" stroke-width="0.8" transform="rotate(182 453.1 395.6)"/>
<circle cx="452.4" cy="394.7" r="1.3" fill="#c4c4c4"/>
<circle cx="466.3" cy="397.5" r="4.5" fill="#a6a6a6" stroke="#595959" stroke-width="1.25"/>
<path d="M464.1 397.9q2.2 -4.0 4.5 -0.5" fill="none" stroke="#6e6e6e" stroke-width="0.8" transform="rotate(302 466.3 397.5)"/>
<circle cx="465.2" cy="398.0" r="1.3" fill="#c4c4c4"/>
<path d="M435 372l4-5" stroke="#777" stroke-width="1"/>
<circle cx="428.5" cy="381.5" r="0.8" fill="#777"/>
</g></svg>
<path d="M415.2 364.7H498.3" stroke="#4c4c4c" stroke-width="1"/>
<path d="M415.2 442.5H498.3" stroke="#4c4c4c" stroke-width="1"/>
<path d="M415.7 364.2V443" stroke="#555" stroke-width="1"/>
<path d="M497.8 364.2V443" stroke="#666" stroke-width="1"/>
</svg></body></html>
